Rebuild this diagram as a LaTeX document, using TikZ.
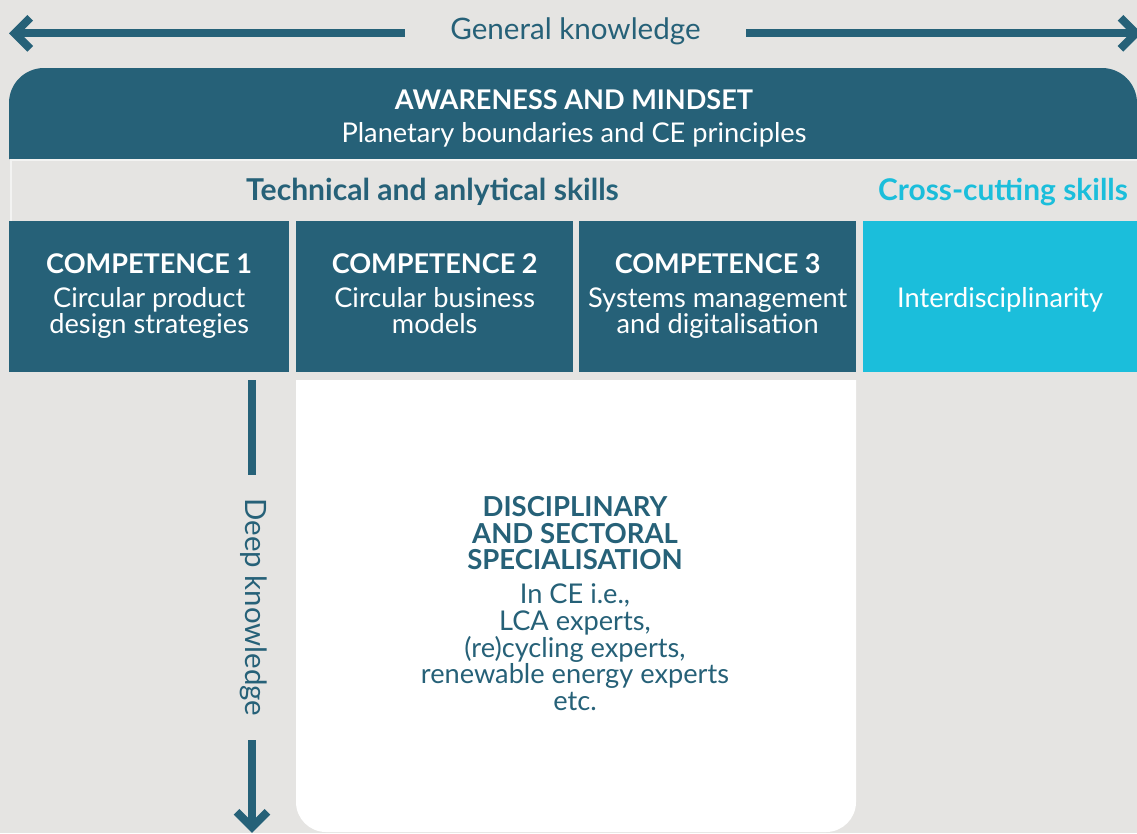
\documentclass[tikz,border=0pt]{standalone}
\usepackage{fontspec}
\setmainfont{Lato}
\definecolor{ceTeal}{HTML}{266178}
\definecolor{ceCyan}{HTML}{1BBEDB}
\definecolor{ceBg}{HTML}{E5E4E2}
\newcommand\headf{\bfseries\fontsize{27.1}{30}\selectfont}
\begin{document}
\begin{tikzpicture}[x=1pt,y=-1pt,
  box/.style={fill=#1, inner sep=0, minimum height=151, anchor=north west},
  boxtext/.style={text=white, align=center, inner sep=0, anchor=north, font=\fontsize{27.2}{26}\selectfont},
  kline/.style={draw=ceTeal, line width=8},
  khead/.style={draw=ceTeal, line width=8, line join=miter},
  ]
\useasboundingbox (0,0) rectangle (1137,833);
\fill[ceBg] (0,0) rectangle (1137,833);
% top band
\fill[ceTeal] (9,159) -- (9,103) arc[start angle=180,end angle=270,radius=35]
  -- (1102,68) arc[start angle=270,end angle=360,radius=35] -- (1137,159) -- cycle;
% skills strip outline
\draw[white!55!ceBg, line width=1.5] (11,221) -- (11,159.75) -- (1137,159.75);
% band text
\node[boxtext] (awt) at (574,89.5) {{\headf AWARENESS AND MINDSET}\\[7pt]Planetary boundaries and CE principles};
% strip texts
\node[anchor=base, inner sep=0, text=ceTeal, font=\bfseries\fontsize{30.1}{32}\selectfont] (tas) at (432.5,200) {Technical and anlytical skills};
\node[anchor=base, inner sep=0, text=ceCyan, font=\bfseries\fontsize{29.9}{32}\selectfont] (ccs) at (1003,200) {Cross-cutting skills};
% boxes
\node[box=ceTeal, minimum width=280] (c1) at (9,221) {};
\node[box=ceTeal, minimum width=277] (c2) at (296,221) {};
\node[box=ceTeal, minimum width=277] (c3) at (579,221) {};
\node[box=ceCyan, minimum width=274] (cc) at (863,221) {};
\node[boxtext] (c1t) at (c1.north |- 0,253.6) {{\headf COMPETENCE 1}\\[8pt]Circular product\\design strategies};
\node[boxtext] (c2t) at (c2.north |- 0,253.6) {{\headf COMPETENCE 2}\\[8pt]Circular business\\models};
\node[boxtext] (c3t) at (c3.north |- 0,253.6) {{\headf COMPETENCE 3}\\[8pt]Systems management\\and digitalisation};
\node[boxtext, anchor=base] (cct) at (cc.north |- 0,307) {Interdisciplinarity};
% white specialisation box
\fill[white] (296,380) -- (856,380) -- (856,802) arc[start angle=0,end angle=90,radius=30]
  -- (326,832) arc[start angle=90,end angle=180,radius=30] -- cycle;
\node[boxtext, text=ceTeal, font=\fontsize{27.2}{26.7}\selectfont] (dst) at (575,496.3)
  {{\bfseries\fontsize{27.5}{27}\selectfont DISCIPLINARY}\\[0.3pt]{\bfseries\fontsize{27.5}{27}\selectfont AND SECTORAL}\\[-0.7pt]{\bfseries\fontsize{27.5}{27}\selectfont SPECIALISATION}\\[7.3pt]In CE i.e.,\\LCA experts,\\(re)cycling experts,\\renewable energy experts\\etc.};
% general knowledge arrow
\node[anchor=base, inner sep=0, minimum width=341, text=ceTeal, font=\fontsize{29.6}{32}\selectfont] (gk) at (575.5,39) {General knowledge};
\coordinate (gkL) at (14.7,33.3);
\coordinate (gkR) at (1136,33.3);
\draw[kline] (gk.west |- gkL) -- (gkL);
\draw[khead] (gkL) ++(15.5,-15.5) -- (gkL) -- ++(15.5,15.5);
\draw[kline] (gk.east |- gkR) -- (gkR);
\draw[khead] (gkR) ++(-15.5,-15.5) -- (gkR) -- ++(-15.5,15.5);
% deep knowledge arrow
\node[rotate=-90, inner sep=0, minimum width=265, text=ceTeal, font=\fontsize{29.4}{32}\selectfont] (dk) at (254,607.5) {Deep knowledge};
\coordinate (dkT) at (252,380);
\coordinate (dkB) at (252,827.3);
\draw[kline] (dkT) -- (dkT |- dk.west);
\draw[kline] (dkT |- dk.east) -- (dkB);
\draw[khead] (dkB) ++(-15.5,-15.5) -- (dkB) -- ++(15.5,-15.5);
\end{tikzpicture}
\end{document}
